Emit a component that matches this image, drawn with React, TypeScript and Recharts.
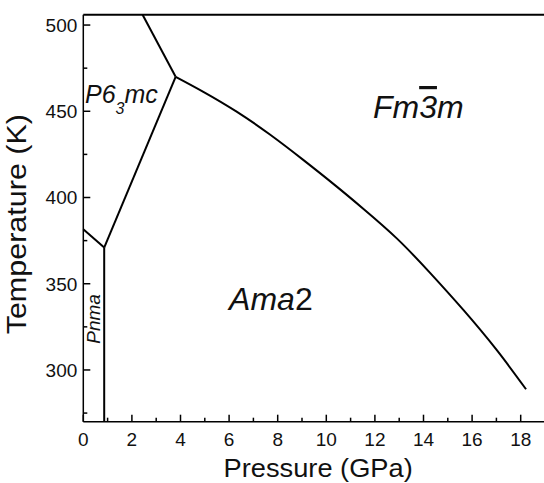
import { LineChart, Line, XAxis, YAxis, ReferenceLine, ReferenceDot, Label } from "recharts";

// phase boundaries, pressure (GPa) vs temperature (K)
const pnmaAma2 = [
  { p: 0.86, t: 270 },
  { p: 0.86, t: 371 },
];
const pnmaP63mc = [
  { p: 0, t: 381.6 },
  { p: 0.86, t: 371 },
];
const p63mcAma2 = [
  { p: 0.86, t: 371 },
  { p: 3.8, t: 470 },
];
const p63mcFm3m = [
  { p: 3.8, t: 470 },
  { p: 2.44, t: 506 },
];
const ama2Fm3m = [
  { p: 3.8, t: 470 },
  { p: 4.94, t: 461.3 },
  { p: 6.31, t: 449.8 },
  { p: 7.68, t: 436.5 },
  { p: 9.05, t: 421.8 },
  { p: 10.43, t: 406.3 },
  { p: 11.52, t: 393.5 },
  { p: 12.9, t: 376.3 },
  { p: 14.27, t: 356.3 },
  { p: 15.64, t: 334.8 },
  { p: 17.01, t: 311.6 },
  { p: 18.22, t: 288.8 },
];

const xTicks = [0, 1, 2, 3, 4, 5, 6, 7, 8, 9, 10, 11, 12, 13, 14, 15, 16, 17, 18];
const yTicks = [275, 300, 325, 350, 375, 400, 425, 450, 475, 500];

// where each phase name sits (p, t)
const p63mcPos = { p: 0.07, t: 454.6 };
const fm3mPos = { p: 11.92, t: 446.1 };
const ama2Pos = { p: 6.0, t: 334.8 };
const pnmaPos = { p: 0.69, t: 329.6 };

const font = "'Liberation Sans', Arial, sans-serif";

const XTick = ({ x, y, payload }: any) => {
  const major = payload.value % 2 === 0;
  return (
    <g>
      <line x1={x} y1={y} x2={x} y2={y - (major ? 7 : 4)} stroke="#000" strokeWidth={1.5} />
      {major && (
        <text x={x} y={y + 24} textAnchor="middle" fontSize={19} fontFamily={font} fill="#111">
          {payload.value}
        </text>
      )}
    </g>
  );
};

const YTick = ({ x, y, payload }: any) => {
  const major = payload.value % 50 === 0;
  return (
    <g>
      <line x1={x} y1={y} x2={x + (major ? 7 : 4)} y2={y} stroke="#000" strokeWidth={1.5} />
      {major && (
        <text x={x - 6} y={y} dy="0.36em" textAnchor="end" fontSize={19} fontFamily={font} fill="#111">
          {payload.value}
        </text>
      )}
    </g>
  );
};

const line = (data: any[], type: any = "linear") => (
  <Line
    data={data}
    dataKey="t"
    type={type}
    stroke="#000"
    strokeWidth={2}
    dot={false}
    activeDot={false}
    isAnimationActive={false}
  />
);

export default function App() {
  return (
    <div style={{ position: "absolute", left: 0, top: 0, width: 544, height: 483, overflow: "hidden", background: "#fff" }}>
      <LineChart width={560} height={483} margin={{ top: 14.7, right: 15, bottom: 0, left: 0 }}>
        <XAxis
          type="number"
          dataKey="p"
          domain={[0, 19]}
          ticks={xTicks}
          interval={0}
          height={61.3}
          tickSize={0}
          tickMargin={0}
          tickLine={false}
          tick={<XTick />}
          axisLine={{ stroke: "#000", strokeWidth: 1.5 }}
          allowDuplicatedCategory={false}
        >
          <Label
            content={({ viewBox }: any) => {
              const cx = viewBox.x + viewBox.width / 2 + 4;
              const cy = viewBox.y + 55;
              return (
                <text
                  transform={`translate(${cx} ${cy}) scale(1.09 1)`}
                  textAnchor="middle"
                  fontSize={25}
                  fontFamily={font}
                  fill="#111"
                >
                  Pressure (GPa)
                </text>
              );
            }}
          />
        </XAxis>
        <YAxis
          type="number"
          domain={[270, 506]}
          ticks={yTicks}
          interval={0}
          width={83.3}
          tickSize={0}
          tickMargin={0}
          tickLine={false}
          tick={<YTick />}
          axisLine={{ stroke: "#000", strokeWidth: 1.5 }}
        >
          <Label
            content={({ viewBox }: any) => {
              const cx = viewBox.x + viewBox.width - 57;
              const cy = viewBox.y + viewBox.height / 2 + 6;
              return (
                <text
                  transform={`translate(${cx} ${cy}) rotate(-90) scale(1.13 1)`}
                  textAnchor="middle"
                  fontSize={27}
                  fontFamily={font}
                  fill="#111"
                >
                  Temperature (K)
                </text>
              );
            }}
          />
        </YAxis>
        <ReferenceLine y={506} stroke="#000" strokeWidth={2} />
        {line(pnmaAma2)}
        {line(pnmaP63mc)}
        {line(p63mcAma2)}
        {line(p63mcFm3m)}
        {line(ama2Fm3m, "natural")}
        <ReferenceDot
          x={p63mcPos.p}
          y={p63mcPos.t}
          shape={({ cx, cy }: any) => (
            <text x={cx} y={cy} fontSize={25} fontStyle="italic" fontFamily={font} fill="#111">
              P6
              <tspan dy={11} fontSize={16}>3</tspan>
              <tspan dy={-11}>mc</tspan>
            </text>
          )}
        />
        <ReferenceDot
          x={fm3mPos.p}
          y={fm3mPos.t}
          shape={({ cx, cy }: any) => (
            <text x={cx} y={cy} fontSize={32} fontStyle="italic" fontFamily={font} fill="#111">
              Fm<tspan style={{ textDecoration: "overline" }}>3</tspan>m
            </text>
          )}
        />
        <ReferenceDot
          x={ama2Pos.p}
          y={ama2Pos.t}
          shape={({ cx, cy }: any) => (
            <text x={cx} y={cy} fontSize={32} fontStyle="italic" fontFamily={font} fill="#111">
              Ama<tspan fontStyle="normal">2</tspan>
            </text>
          )}
        />
        <ReferenceDot
          x={pnmaPos.p}
          y={pnmaPos.t}
          shape={({ cx, cy }: any) => (
            <text
              x={cx}
              y={cy}
              transform={`rotate(-90 ${cx} ${cy})`}
              textAnchor="middle"
              fontSize={19}
              fontStyle="italic"
              fontFamily={font}
              fill="#111"
            >
              Pnma
            </text>
          )}
        />
      </LineChart>
    </div>
  );
}
